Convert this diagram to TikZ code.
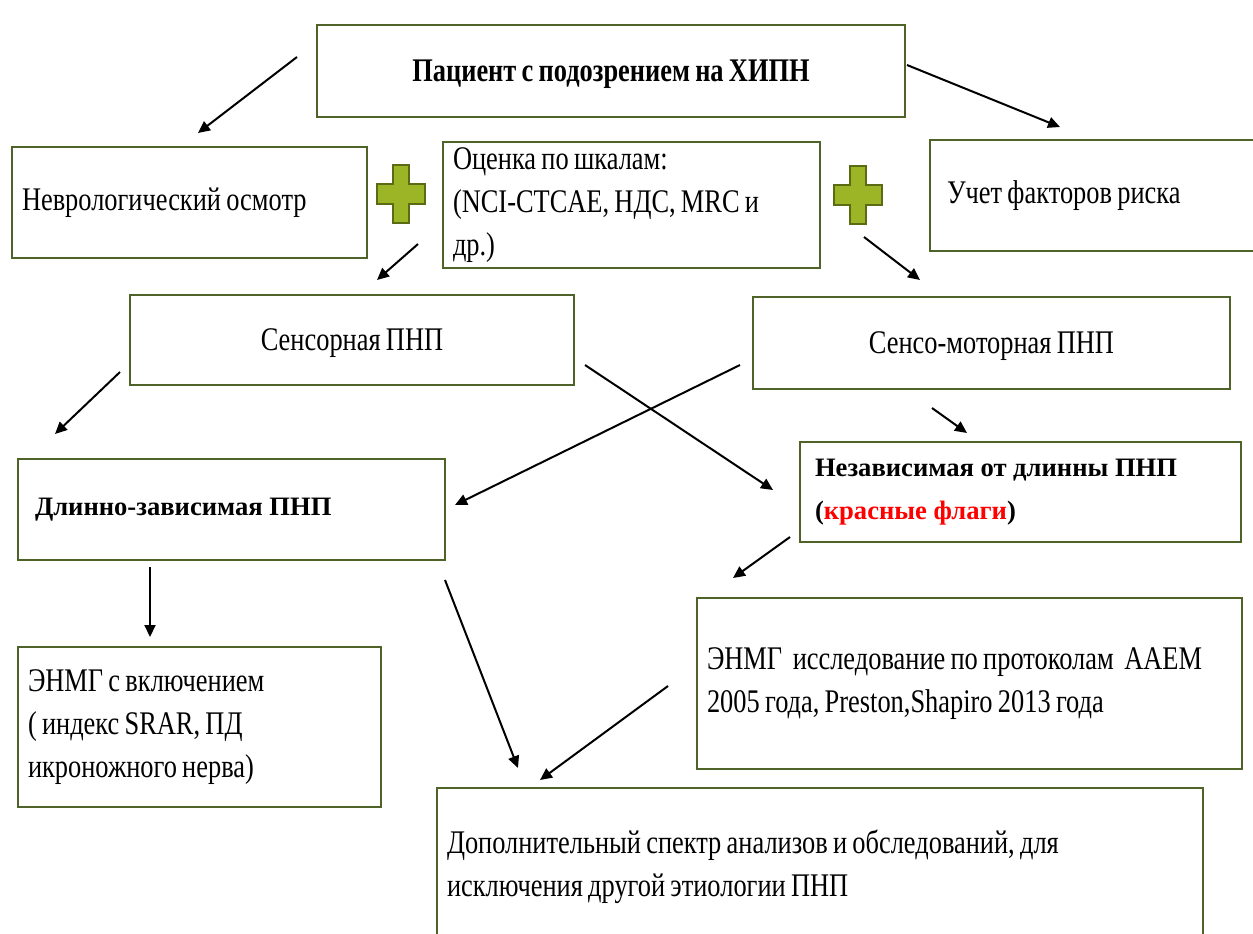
\documentclass[tikz,border=0pt]{standalone}
\usepackage{fontspec}
\setmainfont{Liberation Serif}[FakeStretch=0.8, WordSpace=0.8]
\newfontfamily\plainserif{Liberation Serif}
\usetikzlibrary{arrows.meta}
\definecolor{boxolive}{RGB}{79,98,40}
\definecolor{plusfill}{RGB}{155,181,38}
\definecolor{plusline}{RGB}{90,107,20}
\tikzset{
  box/.style={draw=boxolive, line width=1.2pt, fill=white, inner xsep=5pt, inner ysep=0pt,
    font=\fontsize{16.5}{21.5}\selectfont},
  lbox/.style={box, text width=#1, align=flush left},
  cbox/.style={box, align=center, text depth=0pt},
  arr/.style={-{Triangle[length=6pt,width=5.5pt]}, line width=1pt, black},
  plus/.style={fill=plusfill, draw=plusline, line width=0.8pt},
}
\begin{document}
\begin{tikzpicture}[x=0.5pt, y=-0.5pt]
  \useasboundingbox (0,0) rectangle (1253,933);
  %% first row
  \node[cbox, minimum width=294pt, minimum height=46pt, font=\fontsize{16.5}{21.5}\selectfont\bfseries] (patient) at (611,71)
    {Пациент с подозрением на ХИПН};
  \node[lbox=167.5pt, minimum height=55.5pt] (neuro) at (189.5,202.5) {Неврологический осмотр};
  \node[lbox=178.5pt, minimum height=63pt] (scales) at (631.5,205)
    {Оценка по шкалам:\\(NCI-CTCAE, НДС, MRC и\\др.)};
  \node[lbox=163pt, inner xsep=8.5pt, minimum height=55.5pt] (risk) at (1110,195.5) {Учет факторов риска};
  %% plus signs
  \foreach \cx/\cy in {401/194, 858/195}
    \filldraw[plus] (\cx-8,\cy-29) -- (\cx+8,\cy-29) -- (\cx+8,\cy-10) -- (\cx+24,\cy-10)
      -- (\cx+24,\cy+10) -- (\cx+8,\cy+10) -- (\cx+8,\cy+29) -- (\cx-8,\cy+29)
      -- (\cx-8,\cy+10) -- (\cx-24,\cy+10) -- (\cx-24,\cy-10) -- (\cx-8,\cy-10) -- cycle;
  %% types of PNP
  \node[cbox, minimum width=222pt, minimum height=45pt] (sensory) at (352,340) {Сенсорная ПНП};
  \node[cbox, minimum width=238.5pt, minimum height=46pt] (sensomotor) at (991.5,343) {Сенсо-моторная ПНП};
  \node[lbox=196.5pt, inner xsep=8.5pt, minimum height=50.5pt, font=\plainserif\bfseries\fontsize{13.3}{21.5}\selectfont]
    (lengthdep) at (231.5,509.5) {Длинно-зависимая ПНП};
  \node[lbox=205.5pt, inner xsep=7.5pt, minimum height=50pt, font=\plainserif\bfseries\fontsize{13.3}{21.5}\selectfont]
    (indep) at (1020.5,492) {Независимая от длинны ПНП\\(\textcolor{red}{красные флаги})};
  %% examinations
  \node[lbox=171.5pt, minimum height=80pt] (enmgsrar) at (199.5,727)
    {ЭНМГ с включением\\( индекс SRAR, ПД\\икроножного нерва)};
  \node[lbox=262.5pt, minimum height=85.5pt] (enmgaaem) at (969.5,683.5)
    {ЭНМГ\ \ исследование по протоколам\ \ AAEM\\2005 года, Preston,Shapiro 2013 года};
  \node[lbox=373pt, minimum height=78.5pt] (extra) at (820,866.5)
    {Дополнительный спектр анализов и обследований, для\\исключения другой этиологии ПНП};
  %% arrow ends
  \foreach \n/\x/\y in {a1/297/57, b1/198/133, a2/907/65, b2/1060/127,
      a3/418/244, b3/377/280, a4/864/237, b4/920/280,
      a5/120/372, b5/55/434, a6/585/365, b6/773/490,
      a7/740/365, b7/455/505, a8/932/408, b8/967/433,
      a9/150/567, b9/150/637, a10/445/580, b10/518/768,
      a11/790/537, b11/733/578, a12/668/686, b12/540/780}
    \coordinate (\n) at (\x,\y);
  \foreach \i in {1,...,12}
    \draw[arr] (a\i) -- (b\i);
\end{tikzpicture}
\end{document}
